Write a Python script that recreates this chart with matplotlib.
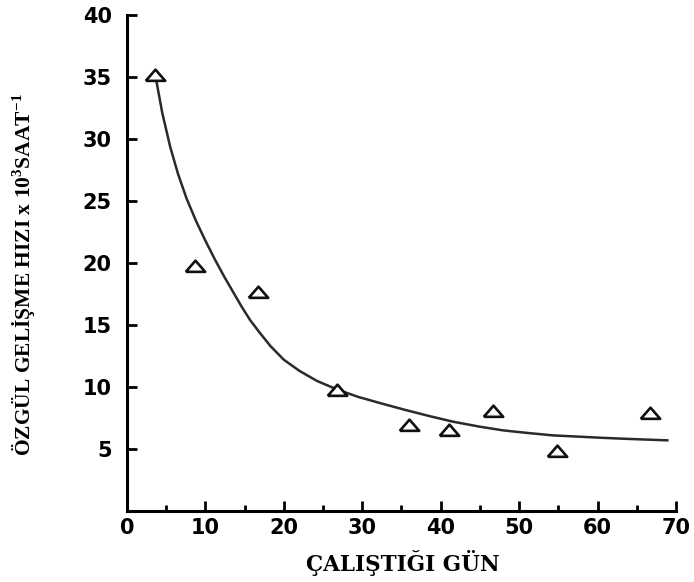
import matplotlib
matplotlib.use("Agg")
import matplotlib.pyplot as plt
from matplotlib.ticker import MultipleLocator

plt.rcParams['mathtext.fontset'] = 'custom'
plt.rcParams['mathtext.rm'] = 'Liberation Serif:bold'
plt.rcParams['mathtext.bf'] = 'Liberation Serif:bold'

# measured points (day, specific growth rate x 10^3 1/h)
gun = [3.6, 8.7, 16.7, 26.8, 36.0, 41.0, 46.7, 54.8, 66.7]
hiz = [35.2, 19.8, 17.7, 9.8, 6.9, 6.5, 8.1, 4.8, 7.9]

# fitted curve
egri_x = [3.6, 4.5, 5.5, 6.5, 7.6, 8.8, 10.0, 11.2, 12.4, 13.5, 14.6, 15.7, 16.9, 18.3, 20.0,
          22.0, 24.2, 26.8, 29.5, 32.3, 35.5, 38.6, 41.6, 45.0, 48.0, 51.0, 54.3, 57.5, 60.7, 64.5, 68.9]
egri_y = [35.2, 32.1, 29.4, 27.2, 25.2, 23.4, 21.8, 20.3, 18.9, 17.7, 16.5, 15.4, 14.4, 13.3, 12.2,
          11.3, 10.5, 9.8, 9.2, 8.7, 8.15, 7.65, 7.2, 6.8, 6.5, 6.3, 6.1, 6.0, 5.9, 5.8, 5.7]

xticks = [0, 10, 20, 30, 40, 50, 60, 70]
yticks = [5, 10, 15, 20, 25, 30, 35, 40]

# flat triangle like the scanned figure
ucgen = [(-1, -0.55), (1, -0.55), (0, 0.6), (-1, -0.55)]

fig = plt.figure(figsize=(6.94, 5.82), dpi=100)
ax = fig.add_axes([0.183, 0.122, 0.791, 0.852])

ax.plot(egri_x, egri_y, color="#2a2a2a", lw=1.8, solid_joinstyle="round", zorder=2)
ax.plot(gun, hiz, linestyle="none", marker=ucgen, markersize=14,
        markerfacecolor="white", markeredgecolor="#111111", markeredgewidth=1.9, zorder=3)

ax.set_xlim(0, 70)
ax.set_ylim(0, 40)
ax.set_xticks(xticks)
ax.set_yticks(yticks)
ax.xaxis.set_minor_locator(MultipleLocator(5))

ax.spines["top"].set_visible(False)
ax.spines["right"].set_visible(False)
ax.spines["left"].set_linewidth(2.2)
ax.spines["bottom"].set_linewidth(2.2)

ax.tick_params(axis="x", which="major", direction="in", length=7, width=2, pad=5)
ax.tick_params(axis="x", which="minor", direction="in", length=4.5, width=2)
ax.tick_params(axis="y", which="major", direction="in", length=7, width=2, pad=11)

for lab in ax.get_xticklabels() + ax.get_yticklabels():
    lab.set_fontfamily("DejaVu Sans")
    lab.set_fontweight("bold")
    lab.set_fontsize(15)

ax.set_xlabel("ÇALIŞTIĞI GÜN", fontfamily="DejaVu Serif", fontweight="bold", fontsize=15.5)
ax.xaxis.set_label_coords(0.502, -0.079)
ax.set_ylabel(r"ÖZGÜL GELİŞME HIZI x 10$^{3}$SAAT$^{-1}$",
              fontfamily="Liberation Serif", fontweight="bold", fontsize=15.5)
ax.yaxis.set_label_coords(-0.162, 0.476)

fig.savefig("out.png", dpi=100)
